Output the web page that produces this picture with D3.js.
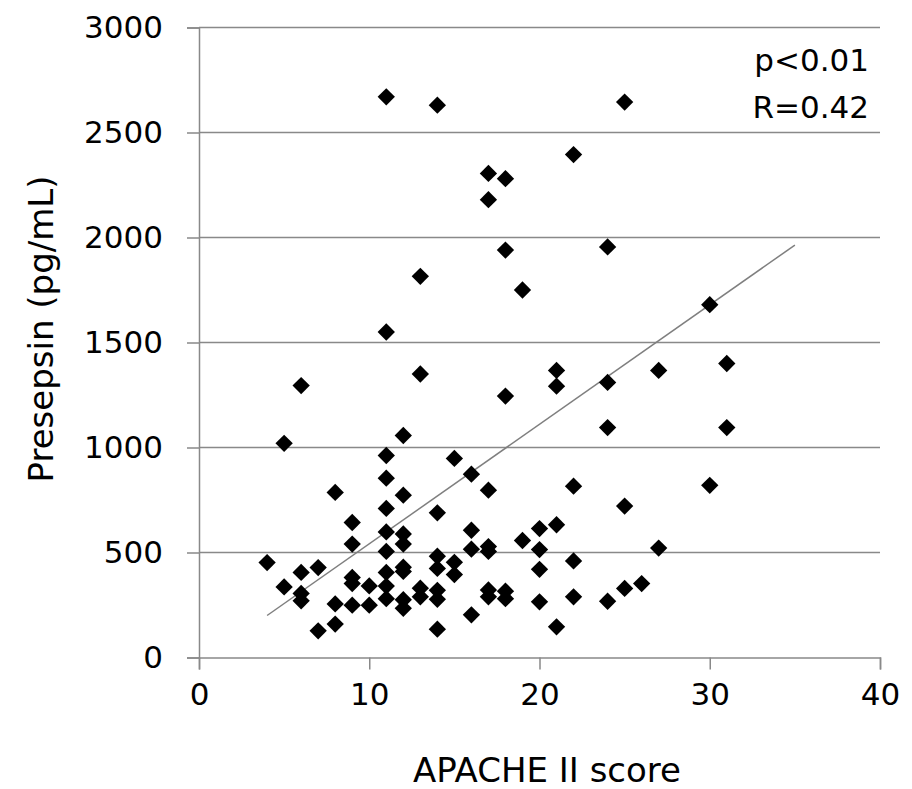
<!DOCTYPE html>
<html>
<head>
<meta charset="utf-8">
<script src="https://cdnjs.cloudflare.com/ajax/libs/d3/7.8.5/d3.min.js"></script>
<style>
	body { margin: 0; background: #fff; }
	text { font-family: "DejaVu Sans", Verdana, sans-serif; fill: #000; }
</style>
</head>
<body>
<div id="chart"></div>
<script>
////////////////////////////////////////////////////////////////////////////////////////
// data
////////////////////////////////////////////////////////////////////////////////////////
var apacheScores = [
	4,
	5, 5,
	6, 6, 6, 6,
	7, 7,
	8, 8, 8,
	9, 9, 9, 9, 9,
	10, 10,
	11, 11, 11, 11, 11, 11, 11, 11, 11, 11,
	12, 12, 12, 12, 12, 12, 12, 12,
	13, 13, 13, 13,
	14, 14, 14, 14, 14, 14, 14,
	15, 15, 15,
	16, 16, 16, 16,
	17, 17, 17, 17, 17, 17, 17,
	18, 18, 18, 18, 18,
	19, 19,
	20, 20, 20, 20,
	21, 21, 21, 21,
	22, 22, 22, 22,
	24, 24, 24, 24,
	25, 25, 25,
	26,
	27, 27,
	30, 30,
	31, 31
];
var presepsinValues = [
	452,
	1020, 336,
	1295, 405, 305, 270,
	428, 127,
	786, 255, 159,
	643, 540, 381, 352, 249,
	341, 249,
	2670, 1550, 962, 854, 710, 598, 505, 405, 340, 280,
	1057, 773, 588, 540, 430, 410, 275, 234,
	1815, 1350, 330, 289,
	2630, 689, 482, 424, 320, 277, 135,
	948, 453, 395,
	873, 606, 516, 203,
	2305, 2180, 797, 528, 505, 322, 289,
	2280, 1940, 1245, 316, 280,
	1750, 557,
	614, 514, 420, 265,
	1367, 1292, 632, 146,
	2395, 816, 460, 289,
	1955, 1310, 1095, 268,
	2645, 721, 329,
	352,
	1367, 521,
	1680, 820,
	1400, 1095
];

// 추세선: 시작/끝 점수와 계수
var trendRange = [4, 35];
var trendSlope = 56.9;
var trendIntercept = -27.6;

var xTicks = [0, 10, 20, 30, 40];
var yTicks = [0, 500, 1000, 1500, 2000, 2500, 3000];
var statLines = ["p<0.01", "R=0.42"];

////////////////////////////////////////////////////////////////////////////////////////
// chart
////////////////////////////////////////////////////////////////////////////////////////
var width = 912, height = 789;
var gridColor = "#898989";

var svg = d3.select("#chart").append("svg")
	.attr("width", width)
	.attr("height", height);

var x = d3.scaleLinear().domain([0, 40]).range([199, 880]);
var y = d3.scaleLinear().domain([0, 3000]).range([657.5, 27.5]);

// 가로 그리드
svg.append("g")
	.selectAll("line")
	.data(yTicks.filter(function (d) { return d > 0; }))
	.join("line")
	.attr("x1", x(0))
	.attr("x2", x(40))
	.attr("y1", function (d) { return y(d); })
	.attr("y2", function (d) { return y(d); })
	.attr("stroke", gridColor)
	.attr("stroke-width", 1.5);

// y axis
var yAxis = svg.append("g")
	.attr("transform", "translate(" + x(0) + ",0)")
	.call(d3.axisLeft(y).tickValues(yTicks).tickFormat(d3.format("d")).tickSize(12).tickPadding(24));
yAxis.select(".domain").attr("stroke", gridColor).attr("stroke-width", 1.5);
yAxis.selectAll(".tick line").attr("stroke", gridColor).attr("stroke-width", 1.5);
yAxis.selectAll(".tick text")
	.style("font-size", "31px")
	.style("font-family", "'DejaVu Sans', Verdana, sans-serif")
	.attr("fill", "#000");

// x axis
var xAxis = svg.append("g")
	.attr("transform", "translate(0," + y(0) + ")")
	.call(d3.axisBottom(x).tickValues(xTicks).tickFormat(d3.format("d")).tickSize(12).tickPadding(13));
xAxis.select(".domain").attr("stroke", gridColor).attr("stroke-width", 1.5);
xAxis.selectAll(".tick line").attr("stroke", gridColor).attr("stroke-width", 1.5);
xAxis.selectAll(".tick text")
	.style("font-size", "31px")
	.style("font-family", "'DejaVu Sans', Verdana, sans-serif")
	.attr("fill", "#000");

// axis titles
svg.append("text")
	.attr("x", 547)
	.attr("y", 782)
	.attr("text-anchor", "middle")
	.style("font-size", "34px")
	.text("APACHE II score");

svg.append("text")
	.attr("transform", "translate(53,329) rotate(-90)")
	.attr("text-anchor", "middle")
	.style("font-size", "34px")
	.text("Presepsin (pg/mL)");

// trend line
svg.append("path")
	.datum(trendRange)
	.attr("d", d3.line()
		.x(function (d) { return x(d); })
		.y(function (d) { return y(trendIntercept + trendSlope * d); }))
	.attr("fill", "none")
	.attr("stroke", "#7f7f7f")
	.attr("stroke-width", 1.5);

// points
var n = apacheScores.length;
var diamond = d3.symbol().type(d3.symbolSquare).size(150);
svg.append("g")
	.selectAll("path")
	.data(d3.range(n))
	.join("path")
	.attr("d", diamond)
	.attr("transform", function (i) {
		return "translate(" + x(apacheScores[i]) + "," + y(presepsinValues[i]) + ") rotate(45)";
	})
	.attr("fill", "#000");

// stats
svg.append("g")
	.selectAll("text")
	.data(statLines)
	.join("text")
	.attr("x", 869)
	.attr("y", function (d, i) { return 71 + i * 47; })
	.attr("text-anchor", "end")
	.style("font-size", "31px")
	.text(function (d) { return d; });
</script>
</body>
</html>
